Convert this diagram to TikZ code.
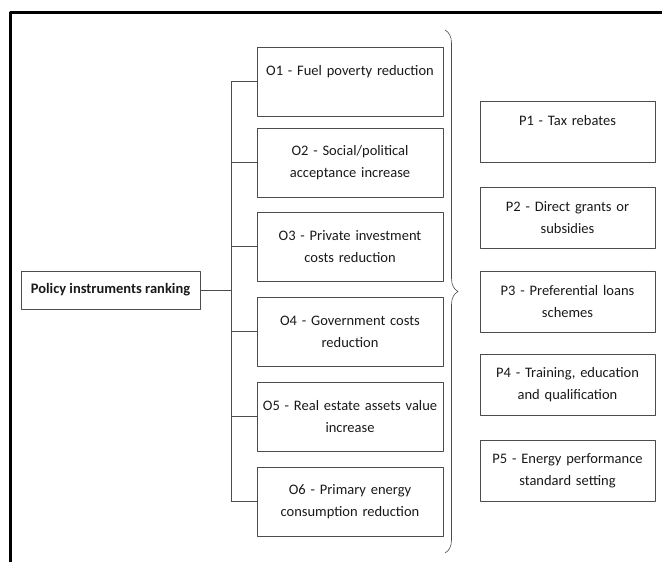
\documentclass[tikz,border=0pt]{standalone}
\usepackage{fontspec}
\setmainfont{Carlito}
\usetikzlibrary{decorations.pathreplacing}
\begin{document}
\begin{tikzpicture}[x=1pt,y=-1pt,line join=round,font=\fontsize{14.5}{22}\selectfont]
	\tikzset{box/.style={draw=black!70,semithick,text=black!90,align=center,inner sep=0pt},
		obox/.style={box,minimum width=186pt,minimum height=69pt,text width=182pt},
		pbox/.style={box,minimum width=175pt,minimum height=61pt,text width=171pt}}
	\useasboundingbox (0,0) rectangle (662,562);
	\draw [line width=3pt] (10,562)--(10,12)--(662,12);
	\node [box,minimum width=179pt,minimum height=38pt,font=\fontsize{14.5}{22}\selectfont\bfseries] (R) at (110.5,290) {Policy instruments ranking};
	\foreach \n/\y/\txt in {1/81.5/{O1 - Fuel poverty reduction\\ \mbox{}},
		2/162.5/{O2 - Social/political\\ acceptance increase},
		3/246.5/{O3 - Private investment\\ costs reduction},
		4/331.5/{O4 - Government costs\\ reduction},
		5/416.5/{O5 - Real estate assets value\\ increase},
		6/501.5/{O6 - Primary energy\\ consumption reduction}}{
		\node [obox] (O\n) at (350,\y) {\txt};
	}
	\foreach \n/\y/\txt in {1/131.5/{P1 - Tax rebates\\ \mbox{}},
		2/217.5/{P2 - Direct grants or\\ subsidies},
		3/301.5/{P3 - Preferential loans\\ schemes},
		4/384.5/{P4 - Training, education\\ and qualification},
		5/470.5/{P5 - Energy performance\\ standard setting}}{
		\node [pbox] (P\n) at (567.5,\y) {\txt};
	}
	\draw [black!70,semithick] (R.east)--++(31,0) coordinate (J);
	\draw [black!70,semithick] (J |- O1.west)--(J |- O6.west);
	\foreach \n in {1,...,6}{
		\draw [black!70,semithick] (J |- O\n.west)--(O\n.west);
	}
	\path (445,30) coordinate (B1) (445,553) coordinate (B2);
	\draw [black!70,semithick,decorate,decoration={brace,amplitude=13pt,aspect=0.5}] (B1)--(B2);
\end{tikzpicture}
\end{document}
